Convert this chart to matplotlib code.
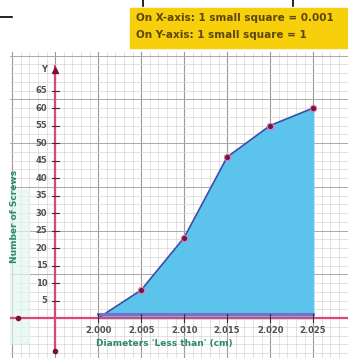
"""Ogive (less-than cumulative frequency) drawn on graph paper."""

import numpy as np
import matplotlib.pyplot as plt
from matplotlib.lines import Line2D

# data: upper class limits (grid position) and cumulative frequency
x_pos = [1, 2, 3, 4, 5, 6]
x_labels = ["2.000", "2.005", "2.010", "2.015", "2.020", "2.025"]
cum_freq = [0, 8, 23, 46, 55, 60]
y_ticks = [5, 10, 15, 20, 25, 30, 35, 40, 45, 50, 55, 60, 65]

fig = plt.figure(figsize=(3.48, 3.58), dpi=100)
ax = fig.add_axes([10 / 348, 0, 338 / 348, 306 / 358])
ax.set_xlim(-1.05, 6.81)
ax.set_ylim(-11.4, 76)
ax.axis("off")

# graph paper
for xv in np.arange(-1.0, 6.81, 0.2):
    major = abs(xv - round(xv)) < 1e-6
    ax.axvline(xv, color="#9a9a9a" if major else "#d6d6d6",
               lw=0.8 if major else 0.5, zorder=0)
for yv in np.arange(-10, 76, 2.5):
    major = abs(yv % 12.5) < 1e-6
    ax.axhline(yv, color="#a8a8a8" if major else "#d6d6d6",
               lw=0.7 if major else 0.5, zorder=0)
ax.axvspan(-1.05, -0.6, ymin=0.05, ymax=0.55, color="#e3f6ee", alpha=0.7, zorder=0)

# ogive
ax.fill_between(x_pos, cum_freq, 0, color="#5cc3ec", zorder=2)
ax.plot(x_pos, cum_freq, color="#3b4fa8", lw=1.2, zorder=3)
ax.plot(x_pos[1:], cum_freq[1:], "o", ms=4.5, color="#5a1f4a",
        mec="#ff6fa0", mew=0.8, zorder=4)
ax.axhline(1.2, xmin=(1 + 1.05) / 7.86, xmax=(6 + 1.05) / 7.86,
           color="#7a6fc9", lw=2.2, zorder=3)

# axes lines
ax.axhline(0, color="#d9477a", lw=1.6, zorder=3)
ax.plot([0, 0], [-10, 72], color="#d9477a", lw=1.6, zorder=3)
ax.plot(0, 71, marker="^", ms=4, color="#7a1038", zorder=4)
ax.plot(0, -9.5, "o", ms=3, color="#7a1038", zorder=4)
ax.plot(-0.86, 0, "o", ms=3, color="#7a1038", zorder=4)

for yv in y_ticks:
    ax.plot([-0.08, 0.08], [yv, yv], color="#333333", lw=0.8, zorder=4)
    ax.text(-0.18, yv, str(yv), ha="right", va="center", fontsize=6,
            fontweight="bold", color="#505050", zorder=5)
ax.text(-0.18, 71, "Y", ha="right", va="center", fontsize=6,
        fontweight="bold", color="#505050")
for xv, lbl in zip(x_pos, x_labels):
    ax.plot([xv, xv], [-1.2, 1.2], color="#333333", lw=0.8, zorder=4)
    ax.text(xv, -2.4, lbl, ha="center", va="top", fontsize=6,
            fontweight="bold", color="#505050", zorder=5)

ax.text(0.95, -7.3, "Diameters 'Less than' (cm)", ha="left", va="center",
        fontsize=6.5, fontweight="bold", color="#2e8b6a")
ax.text(-0.95, 29, "Number of Screws", rotation=90, ha="center",
        va="center", fontsize=6.5, fontweight="bold", color="#2e8b6a")

# scale box
fig.patches.append(plt.Rectangle((130 / 348, 1 - 48 / 358), 218 / 348,
                                 40 / 358, transform=fig.transFigure,
                                 color="#f7cf0c", zorder=1))
fig.text(136 / 348, 1 - 18 / 358, "On X-axis: 1 small square = 0.001",
         fontsize=7.5, fontweight="bold", color="#5c4708", va="center")
fig.text(136 / 348, 1 - 35 / 358, "On Y-axis: 1 small square = 1",
         fontsize=7.5, fontweight="bold", color="#5c4708", va="center")

# cropped remnants at the top edge
fig.lines.append(Line2D([0, 12 / 348], [1 - 17 / 358] * 2,
                        transform=fig.transFigure, color="black", lw=1.2))
for px in (143, 293):
    fig.lines.append(Line2D([px / 348] * 2, [1, 1 - 6 / 358],
                            transform=fig.transFigure, color="black", lw=1.2))

fig.savefig("out.png", dpi=100)
